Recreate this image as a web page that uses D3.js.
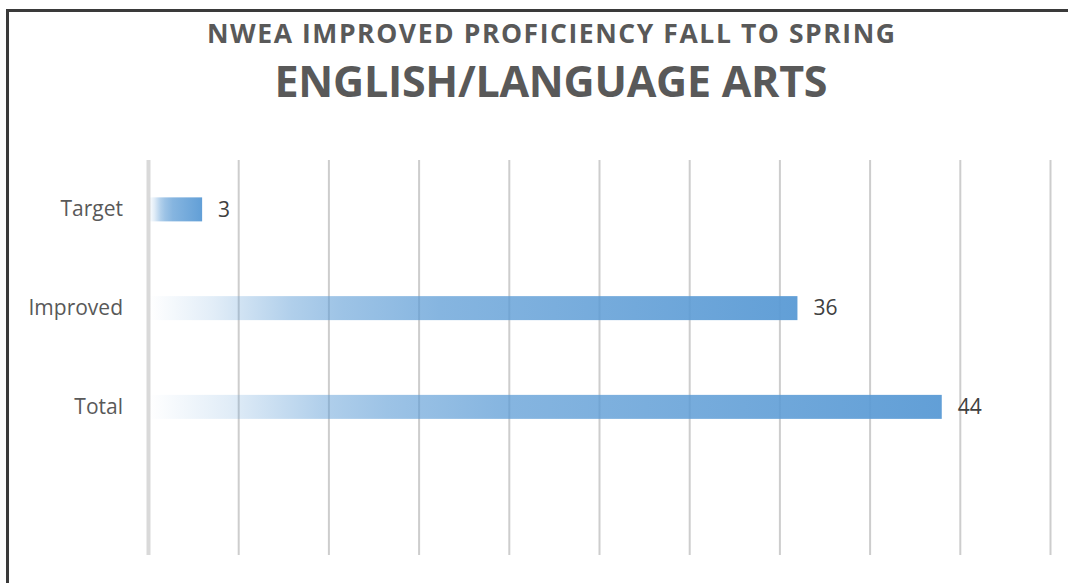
<!DOCTYPE html>
<html>
<head>
<meta charset="utf-8">
<script src="https://cdn.jsdelivr.net/npm/d3@7"></script>
<style>
  body { margin: 0; background: #fff; }
  svg { display: block; font-family: "Open Sans", sans-serif; }
  .grid line { stroke: #cdcdcd; stroke-width: 2; }
  .grid .domain { display: none; }
  .ylab .domain { display: none; }
  .ylab text { fill: #595959; font-size: 21px; font-family: "Open Sans", sans-serif; }
</style>
</head>
<body>
<svg width="1068" height="583"></svg>
<script>
// chart data
var categories = ["Target", "Improved", "Total", ""];
var values = [3, 36, 44, null];
var gridTicks = [0, 5, 10, 15, 20, 25, 30, 35, 40, 45, 50];
var titleLines = ["NWEA IMPROVED PROFICIENCY FALL TO SPRING", "ENGLISH/LANGUAGE ARTS"];

var svg = d3.select("svg");

// frame, only top and left are in view
svg.append("rect")
	.attr("x", 7.5).attr("y", 10.5)
	.attr("width", 1200).attr("height", 700)
	.attr("fill", "none")
	.attr("stroke", "#3a3a3a")
	.attr("stroke-width", 3);

// first title line is a bit letter-spaced in the source
svg.append("text")
	.attr("x", 551).attr("y", 43)
	.attr("text-anchor", "middle")
	.attr("fill", "#595959")
	.attr("textLength", 688).attr("lengthAdjust", "spacing")
	.style("font-size", "26.5px").style("font-weight", "bold")
	.text(titleLines[0]);

svg.append("text")
	.attr("x", 551).attr("y", 97)
	.attr("text-anchor", "middle")
	.attr("fill", "#595959")
	.attr("textLength", 553).attr("lengthAdjust", "spacing")
	.style("font-size", "43px").style("font-weight", "bold")
	.text(titleLines[1]);

var plotTop = 160, plotBottom = 555;
var x = d3.scaleLinear().domain([0, 50]).range([148, 1050]);
var y = d3.scaleBand().domain(categories).range([plotTop, plotBottom]);

// gradient fill, pale on the left
var grad = svg.append("defs").append("linearGradient")
	.attr("id", "barfill")
	.attr("x1", 0).attr("x2", 1).attr("y1", 0).attr("y2", 0);
[[0, 0.0], [0.1, 0.18], [0.22, 0.48], [0.3, 0.6], [0.45, 0.74], [1, 0.96]].forEach(function (s) {
	grad.append("stop")
		.attr("offset", s[0])
		.attr("stop-color", "#5b9bd5")
		.attr("stop-opacity", s[1]);
});

var grid = svg.append("g")
	.attr("class", "grid")
	.attr("transform", "translate(0," + plotBottom + ")")
	.call(d3.axisBottom(x).tickValues(gridTicks).tickSize(-(plotBottom - plotTop)).tickFormat(""));

grid.selectAll(".tick line")
	.filter(function (d) { return d === 0; })
	.style("stroke", "#d9d9d9")
	.style("stroke-width", 4);

var rows = categories.map(function (c, i) { return { cat: c, val: values[i] }; })
	.filter(function (d) { return d.val != null; });

var barH = 24;

svg.selectAll("rect.bar")
	.data(rows)
	.enter()
	.append("rect")
		.attr("class", "bar")
		.attr("x", x(0) + 1)
		.attr("y", function (d) { return y(d.cat) + y.bandwidth() / 2 - barH / 2; })
		.attr("width", function (d) { return x(d.val) - x(0) - 1; })
		.attr("height", barH)
		.attr("fill", "url(#barfill)");

svg.selectAll("text.val")
	.data(rows)
	.enter()
	.append("text")
		.attr("class", "val")
		.attr("x", function (d) { return x(d.val) + 16; })
		.attr("y", function (d) { return y(d.cat) + y.bandwidth() / 2; })
		.attr("dy", "0.35em")
		.attr("fill", "#404040")
		.style("font-size", "21px")
		.text(function (d) { return d.val; });

svg.append("g")
	.attr("class", "ylab")
	.attr("transform", "translate(" + x(0) + ",0)")
	.call(d3.axisLeft(y).tickSize(0).tickPadding(25));
</script>
</body>
</html>
